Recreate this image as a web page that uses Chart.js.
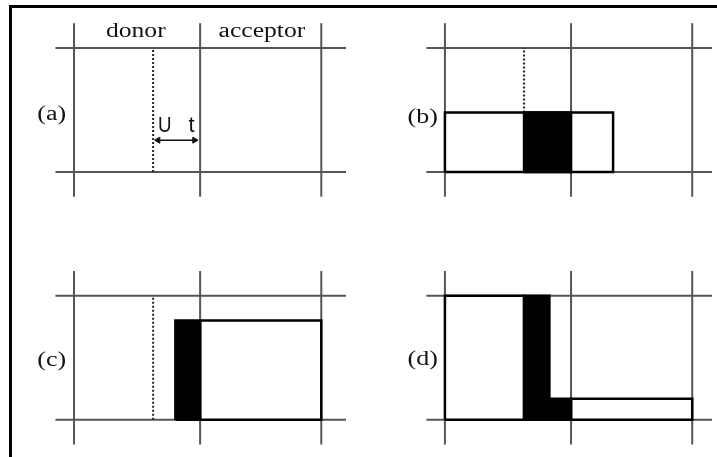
<!DOCTYPE html>
<html>
<head>
<meta charset="utf-8">
<script src="https://cdn.jsdelivr.net/npm/chart.js@4.4.1/dist/chart.umd.min.js"></script>
<style>
  html, body { margin: 0; padding: 0; background: #fff; }
  #wrap { position: relative; width: 717px; height: 457px; overflow: hidden; }
  #frame { position: absolute; left: 9px; top: 5px; right: -5px; bottom: -5px; border-left: 3px solid #000; border-top: 3px solid #000; pointer-events: none; }
  canvas { position: absolute; left: 0; top: 0; }
</style>
</head>
<body>
<div id="wrap">
  <canvas id="diagram" width="717" height="457"></canvas>
  <div id="frame"></div>
</div>
<script>
// panel content, in cell units (one grid cell = 1, bottom grid line at 0)
const panelNames = ["(a)", "(b)", "(c)", "(d)"];
const columnHeaders = ["donor", "acceptor"];
const gridCols = [0, 1.02, 2];
const gridRows = [0, 1];
const interfaceX = 0.64;
const dottedBottom = [0, 0.48, 0, null];

// boxes as [left, right, top], bottom is always 0
const whiteBoxesB = [[0, 1.36, 0.48]];
const blackBoxesB = [[0.64, 1.02, 0.48]];
const whiteBoxesC = [[1.02, 2, 0.8]];
const blackBoxesC = [[0.82, 1.02, 0.8]];
const whiteBoxesD = [[0, 0.64, 1], [1.02, 2, 0.17]];
const blackBoxesD = [[0.64, 0.845, 1], [0.845, 1.02, 0.17]];

const shiftSpan = [0.68, 0.975];
const shiftLevel = 0.256;

// layout
const PANEL_ORIGIN = [[0, 2], [3, 2], [0, 0], [3, 0]];
const LABEL_Y = [0.465, 0.44, 0.48, 0.49];
const GRID = "#555";

const whiteBoxes = [[], whiteBoxesB, whiteBoxesC, whiteBoxesD];
const blackBoxes = [[], blackBoxesB, blackBoxesC, blackBoxesD];

function segment(points, color, width, order, extra) {
  return Object.assign({
    data: points.map(([x, y]) => ({ x, y })),
    showLine: true,
    pointRadius: 0,
    borderColor: color,
    borderWidth: width,
    fill: false,
    order,
  }, extra || {});
}

function box([x0, x1, top], [ox, oy], color, order) {
  return segment(
    [[ox + x0, oy], [ox + x0, oy + top], [ox + x1, oy + top], [ox + x1, oy], [ox + x0, oy]],
    "#000", 2.5, order,
    { fill: "shape", backgroundColor: color }
  );
}

const datasets = [];
PANEL_ORIGIN.forEach(([ox, oy], i) => {
  gridCols.forEach((c) => {
    datasets.push(segment([[ox + c, oy - 0.2], [ox + c, oy + 1.2]], GRID, 2, 6));
  });
  gridRows.forEach((r) => {
    datasets.push(segment([[ox - 0.15, oy + r], [ox + 2.2, oy + r]], GRID, 2, 6));
  });
  if (dottedBottom[i] !== null) {
    datasets.push(segment([[ox + interfaceX, oy + dottedBottom[i]], [ox + interfaceX, oy + 1]],
      "#222", 2, 5, { borderDash: [2, 2] }));
  }
  whiteBoxes[i].forEach((b) => datasets.push(box(b, [ox, oy], "#fff", 4)));
  blackBoxes[i].forEach((b) => datasets.push(box(b, [ox, oy], "#000", 3)));
});

// U·t double arrow in panel (a)
const [ax, ay] = PANEL_ORIGIN[0];
datasets.push(segment(
  [[ax + shiftSpan[0], ay + shiftLevel], [ax + shiftSpan[1], ay + shiftLevel]],
  "#111", 1.5, 2,
  {
    pointRadius: 3.5,
    pointStyle: "triangle",
    pointRotation: [-90, 90],
    pointBackgroundColor: "#111",
    pointBorderWidth: 1,
    pointBorderColor: "#111",
  }
));

function stretchedText(ctx, text, px, py, font, align, sx) {
  ctx.save();
  ctx.translate(px, py);
  ctx.scale(sx, 1);
  ctx.font = font;
  ctx.textAlign = align;
  ctx.textBaseline = "alphabetic";
  ctx.fillStyle = "#111";
  ctx.fillText(text, 0, 0);
  ctx.restore();
}

const textPlugin = {
  id: "panelText",
  afterDatasetsDraw(chart) {
    const { ctx, scales } = chart;
    const px = (v) => scales.x.getPixelForValue(v);
    const py = (v) => scales.y.getPixelForValue(v);
    const serif = '20px "Liberation Serif", "Times New Roman", serif';

    panelNames.forEach((name, i) => {
      const [ox, oy] = PANEL_ORIGIN[i];
      stretchedText(ctx, name, px(ox - 0.18), py(oy + LABEL_Y[i]) + 6, serif, "center", 1.3);
    });

    stretchedText(ctx, columnHeaders[0], px(ax + 0.5), py(ay + 1.085), serif, "center", 1.28);
    stretchedText(ctx, columnHeaders[1], px(ax + 1.52), py(ay + 1.085), serif, "center", 1.28);

    const sans = '22px "Liberation Sans", Arial, sans-serif';
    stretchedText(ctx, "U", px(ax + 0.68), py(ay + 0.326), sans, "left", 0.85);
    stretchedText(ctx, "t", px(ax + 0.95), py(ay + 0.326), sans, "center", 1);
  },
};

new Chart(document.getElementById("diagram"), {
  type: "scatter",
  data: { datasets },
  options: {
    responsive: false,
    animation: false,
    events: [],
    layout: { padding: 0 },
    plugins: { legend: { display: false }, tooltip: { enabled: false } },
    scales: {
      x: { type: "linear", display: false, min: -0.558, max: 5.160 },
      y: { type: "linear", display: false, min: -0.2605, max: 3.347 },
    },
  },
  plugins: [textPlugin],
});
</script>
</body>
</html>
